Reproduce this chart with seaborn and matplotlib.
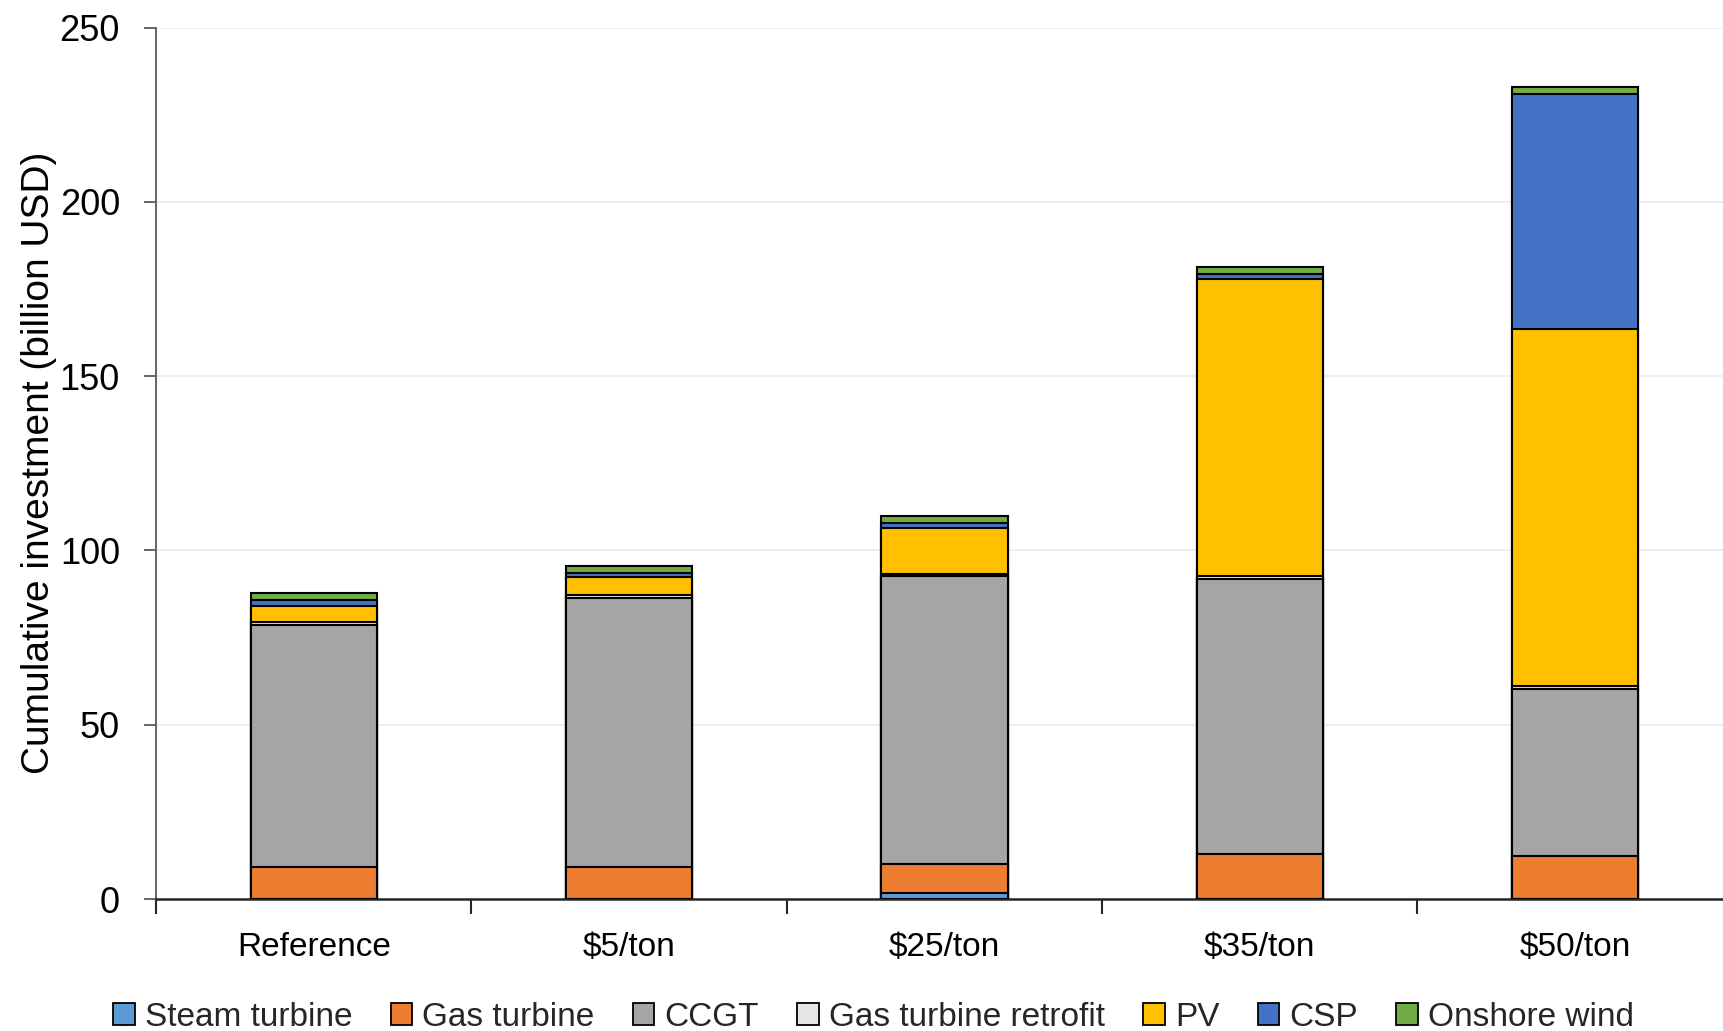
import numpy as np
import pandas as pd
import matplotlib
matplotlib.use("Agg")
import matplotlib.pyplot as plt
from matplotlib.patches import Patch
import seaborn as sns

# Scenarios and investment by technology (billion USD)
scenarios = ["Reference", "$5/ton", "$25/ton", "$35/ton", "$50/ton"]
technologies = ["Steam turbine", "Gas turbine", "CCGT", "Gas turbine retrofit",
                "PV", "CSP", "Onshore wind"]
steam_turbine = [0.0, 0.0, 1.6, 0.0, 0.0]
gas_turbine = [9.3, 9.3, 8.4, 12.8, 12.3]
ccgt = [69.2, 77.1, 82.6, 78.9, 47.9]
gt_retrofit = [1.0, 0.8, 0.6, 1.0, 1.0]
pv = [4.6, 5.1, 13.2, 85.1, 102.3]
csp = [1.6, 1.3, 1.4, 1.5, 67.5]
onshore_wind = [2.0, 1.9, 2.0, 2.1, 2.0]
colors = ["#5B9BD5", "#ED7D31", "#A5A5A5", "#E7E6E6", "#FFC000", "#4472C4", "#70AD47"]

sns.set_theme(style="white")
plt.rcParams["font.family"] = ["Liberation Sans", "DejaVu Sans"]

layers = [steam_turbine, gas_turbine, ccgt, gt_retrofit, pv, csp, onshore_wind]
stack = np.cumsum(np.array(layers), axis=0)

fig = plt.figure(figsize=(17.23, 10.31), dpi=100)
ax = fig.add_axes([0.0906, 0.128, 1.0057 - 0.0906, (1 - 0.0267) - 0.128])

# Stacked bars: draw cumulative totals from the top layer down
for k in range(len(layers) - 1, -1, -1):
    df = pd.DataFrame({"scenario": scenarios, "value": stack[k]})
    sns.barplot(data=df, x="scenario", y="value", order=scenarios, color=colors[k],
                width=0.4, edgecolor="black", linewidth=1.5, saturation=1,
                ax=ax, zorder=3)

ax.set_ylim(0, 250)
ax.set_xlim(-0.5, 4.5)
ax.set_yticks(np.arange(0, 251, 50))
ax.yaxis.grid(True, color="#EDEDED", linewidth=1.3, zorder=0)
ax.xaxis.grid(False)
ax.set_axisbelow(True)

ax.set_xticks(range(len(scenarios)))
ax.set_xticklabels(scenarios)
ax.tick_params(axis="x", which="major", length=0, labelsize=24, pad=24, colors="black")
ax.set_xticks(np.arange(-0.5, 5.0, 1.0), minor=True)
ax.tick_params(axis="x", which="minor", bottom=True, length=11, width=1.5,
               color="#262626", direction="out")
ax.tick_params(axis="y", length=9, width=1.3, color="#595959", labelsize=26, pad=17,
               direction="out", left=True, labelcolor="black")

for side in ["top", "right"]:
    ax.spines[side].set_visible(False)
ax.spines["left"].set_color("#595959")
ax.spines["left"].set_linewidth(1.3)
ax.spines["bottom"].set_color("#262626")
ax.spines["bottom"].set_linewidth(1.8)

ax.set_xlabel("")
ax.set_ylabel("Cumulative investment (billion USD)", fontsize=28, labelpad=2,
              color="black")

handles = [Patch(facecolor=c, edgecolor="black", linewidth=1.3, label=t)
           for c, t in zip(colors, technologies)]
fig.legend(handles=handles, loc="lower center", bbox_to_anchor=(0.507, -0.031),
           ncol=7, frameon=False, fontsize=24, handlelength=0.65, handleheight=0.65,
           handletextpad=0.3, columnspacing=1.15)

fig.savefig("out.png", dpi=100)
